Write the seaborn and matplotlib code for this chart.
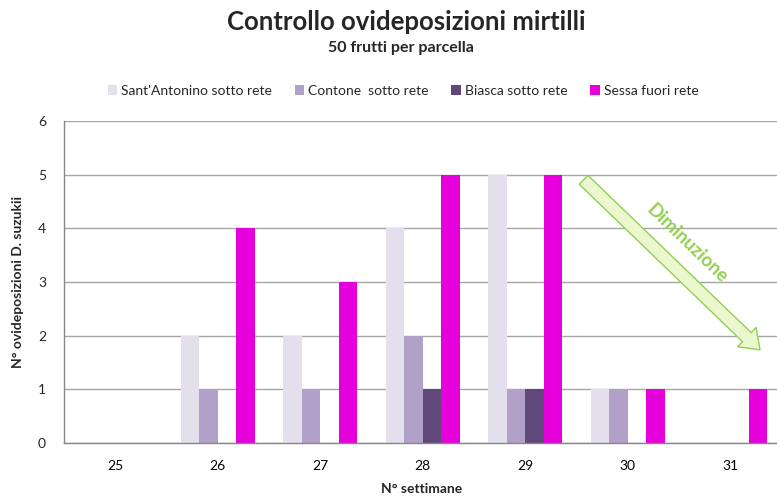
import matplotlib
matplotlib.use("Agg")
import matplotlib.pyplot as plt
import seaborn as sns
import pandas as pd
from matplotlib.patches import FancyArrowPatch
from matplotlib.ticker import FixedLocator

weeks = ["25", "26", "27", "28", "29", "30", "31"]
series = ["Sant'Antonino sotto rete", "Contone  sotto rete", "Biasca sotto rete", "Sessa fuori rete"]
sant_antonino = [0, 2, 2, 4, 5, 1, 0]
contone = [0, 1, 1, 2, 1, 1, 0]
biasca = [0, 0, 0, 1, 1, 0, 0]
sessa = [0, 4, 3, 5, 5, 1, 1]
colors = ["#E4DFEC", "#B1A0C7", "#60497A", "#E600DC"]

rows = []
for name, vals in zip(series, [sant_antonino, contone, biasca, sessa]):
    for w, v in zip(weeks, vals):
        rows.append({"week": w, "serie": name, "val": v})
df = pd.DataFrame(rows)

sns.set_theme(style="white")
plt.rcParams['font.family'] = ['Lato', 'DejaVu Sans']

fig = plt.figure(figsize=(7.77, 4.97), dpi=100)
ax = fig.add_axes([64/777, 54/497, 717.5/777, 322/497])

sns.barplot(data=df, x="week", y="val", hue="serie", palette=colors,
            order=weeks, hue_order=series, width=0.72, gap=0, ax=ax,
            saturation=1, legend=True, edgecolor="none", linewidth=0)

ax.set_ylim(0, 6)
ax.set_xlim(-0.5, 6.5)
ax.set_yticks(range(0, 7))
ax.yaxis.grid(True, color="#A6A6A6", linewidth=1)
ax.set_axisbelow(True)
for s in ["top", "right"]:
    ax.spines[s].set_visible(False)
for s in ["left", "bottom"]:
    ax.spines[s].set_color("#868686")
    ax.spines[s].set_linewidth(1)

ax.tick_params(axis="x", which="major", length=0, labelsize=10, colors="#000000", pad=12)
ax.xaxis.set_minor_locator(FixedLocator([i + 0.5 for i in range(-1, 7)]))
ax.tick_params(axis="x", which="minor", length=5, color="#868686", direction="out")
ax.tick_params(axis="y", length=5, color="#868686", direction="out", labelsize=10, pad=8)

ax.set_xlabel("N° settimane", fontsize=10, fontweight="bold")
ax.xaxis.set_label_coords((422 - 64) / 717.5, -(489 - 443) / 322)
ax.xaxis.label.set_va("center")
ax.set_ylabel("N° ovideposizioni D. suzukii", fontsize=10, fontweight="bold")
ax.yaxis.set_label_coords(-(64 - 18) / 717.5, 0.5)
ax.yaxis.label.set_va("center")

handles, labels = ax.get_legend_handles_labels()
ax.get_legend().remove()
fig.legend(handles, labels, loc="center", bbox_to_anchor=(403/777, 1 - 91/497), ncol=4,
           frameon=False, fontsize=10, handlelength=0.7, handleheight=0.7,
           handletextpad=0.3, columnspacing=1.6)

fig.text(406/777, 1 - 22/497, "Controllo ovideposizioni mirtilli", ha="center", va="center",
         fontsize=18.5, fontweight="bold")
fig.text(401/777, 1 - 48/497, "50 frutti per parcella", ha="center", va="center",
         fontsize=11.5, fontweight="bold")

arrow = FancyArrowPatch((4.55, 4.94), (6.31, 1.70),
                        arrowstyle="simple,head_width=1.6,head_length=1.1,tail_width=0.75",
                        mutation_scale=12, facecolor="#EBF7CF", edgecolor="#92D050",
                        linewidth=1, zorder=5, clip_on=False)
ax.add_patch(arrow)
ax.text(5.58, 3.72, "Diminuzione", rotation=-44, ha="center", va="center",
        fontsize=13.5, fontweight="bold", color="#92D050", rotation_mode="anchor", zorder=6)

fig.savefig("out.png", dpi=100)
